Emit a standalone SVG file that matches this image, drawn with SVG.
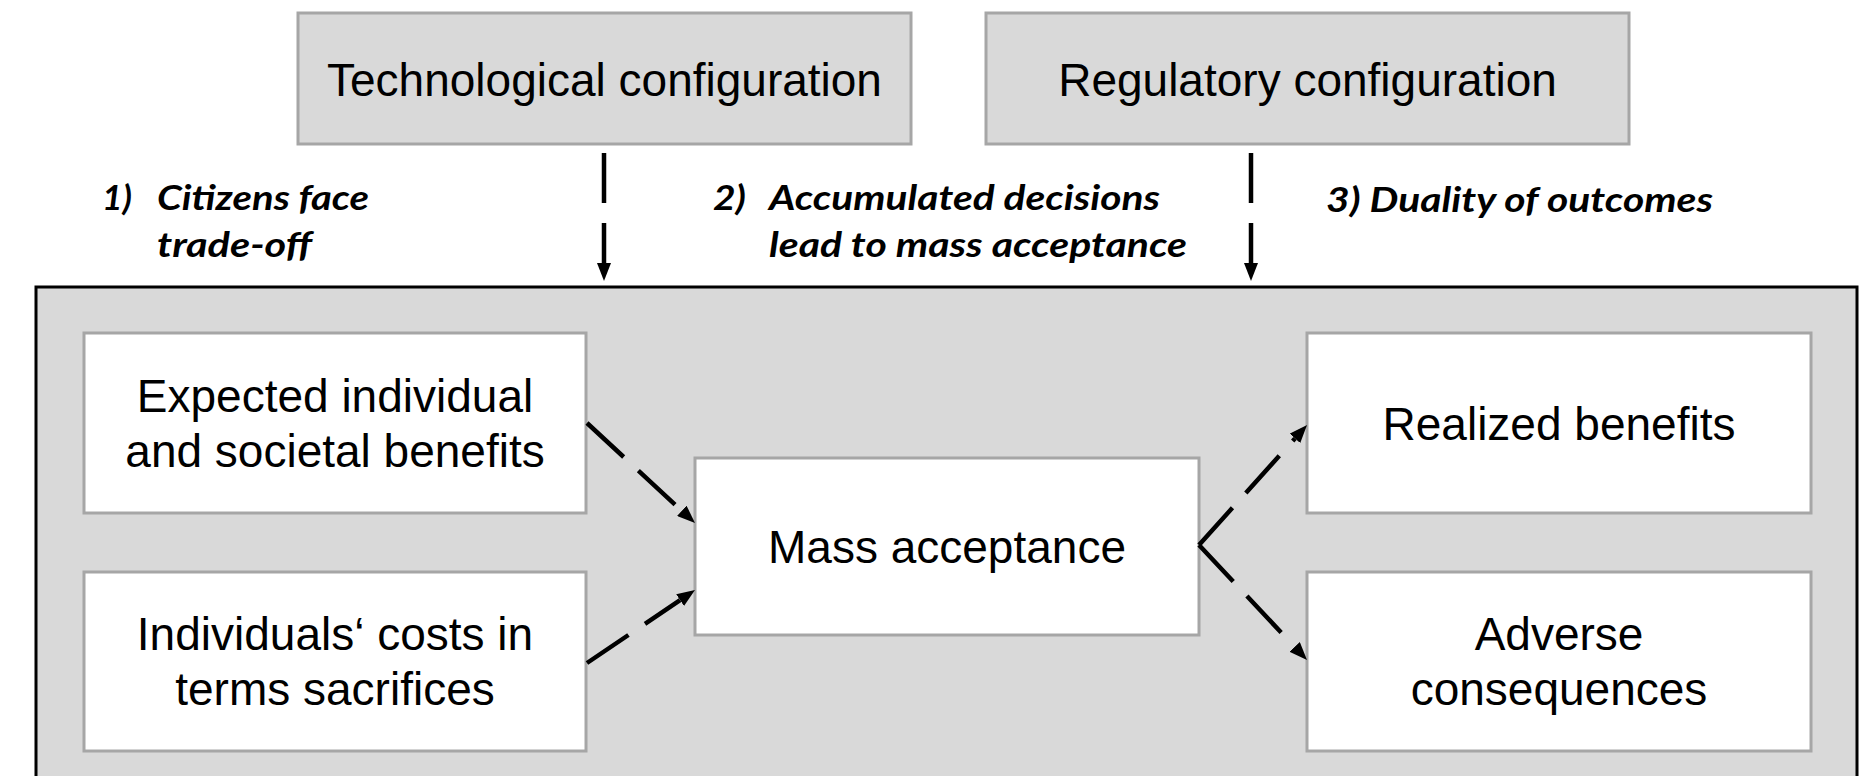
<svg xmlns="http://www.w3.org/2000/svg" width="1875" height="776" viewBox="0 0 1875 776">
<defs>
<style>
.bg{fill:#ffffff}
.top{fill:#d9d9d9;stroke:#a6a6a6;stroke-width:3}
.box{fill:#ffffff;stroke:#a6a6a6;stroke-width:3}
.frame{fill:#d9d9d9;stroke:#000000;stroke-width:3}
.t{font-family:"Liberation Sans",Arial,sans-serif;font-size:46px;fill:#000000;text-anchor:middle}
.lbl{font-family:Lato,"Liberation Sans",sans-serif;font-size:34px;font-weight:bold;font-style:italic;fill:#000000}
.con{fill:none;stroke:#000000;stroke-width:4.5;stroke-dasharray:50 20}
</style>
<marker id="ah" markerUnits="userSpaceOnUse" viewBox="0 -7 18 14" refX="0" refY="0" markerWidth="18" markerHeight="14" orient="auto">
<path d="M0,-7 L18,0 L0,7 z" fill="#000000"/>
</marker>
</defs>
<rect class="bg" x="0" y="0" width="1875" height="776"/>
<g id="frame">
<rect class="frame" x="36" y="287" width="1821" height="510"/>
</g>
<g id="tech">
<rect class="top" x="298" y="13" width="613" height="131"/>
<text class="t" x="604.5" y="96">Technological configuration</text>
</g>
<g id="reg">
<rect class="top" x="986" y="13" width="643" height="131"/>
<text class="t" x="1307.5" y="96">Regulatory configuration</text>
</g>
<g id="label1">
<text class="lbl" x="102" y="210" textLength="30" lengthAdjust="spacingAndGlyphs">1)</text>
<text class="lbl" x="157" y="210" textLength="212" lengthAdjust="spacingAndGlyphs">Citizens face</text>
<text class="lbl" x="157" y="257" textLength="155" lengthAdjust="spacingAndGlyphs">trade-off</text>
</g>
<g id="label2">
<text class="lbl" x="713" y="210" textLength="33" lengthAdjust="spacingAndGlyphs">2)</text>
<text class="lbl" x="769" y="210" textLength="391" lengthAdjust="spacingAndGlyphs">Accumulated decisions</text>
<text class="lbl" x="769" y="257" textLength="418" lengthAdjust="spacingAndGlyphs">lead to mass acceptance</text>
</g>
<g id="label3">
<text class="lbl" x="1326" y="212" textLength="387" lengthAdjust="spacingAndGlyphs">3) Duality of outcomes</text>
</g>
<g id="benefits">
<rect class="box" x="84" y="333" width="502" height="180"/>
<text class="t" x="335" y="412">Expected individual</text>
<text class="t" x="335" y="467">and societal benefits</text>
</g>
<g id="costs">
<rect class="box" x="84" y="572" width="502" height="179"/>
<text class="t" x="335" y="650">Individuals‘ costs in</text>
<text class="t" x="335" y="705">terms sacrifices</text>
</g>
<g id="mass">
<rect class="box" x="695" y="458" width="504" height="177"/>
<text class="t" x="947" y="563">Mass acceptance</text>
</g>
<g id="realized">
<rect class="box" x="1307" y="333" width="504" height="180"/>
<text class="t" x="1559" y="440">Realized benefits</text>
</g>
<g id="adverse">
<rect class="box" x="1307" y="572" width="504" height="179"/>
<text class="t" x="1559" y="650">Adverse</text>
<text class="t" x="1559" y="705">consequences</text>
</g>
<g id="connectors">
<path class="con" d="M604,153 L604,263" marker-end="url(#ah)"/>
<path class="con" d="M1251,153 L1251,263" marker-end="url(#ah)"/>
<path class="con" d="M587,423 L681.8,510.8" marker-end="url(#ah)"/>
<path class="con" d="M587,663 L680.1,600.1" marker-end="url(#ah)"/>
<path class="con" d="M1199,545 L1295,438.4" marker-end="url(#ah)"/>
<path class="con" d="M1199,545 L1294.7,646.9" marker-end="url(#ah)"/>
</g>
</svg>
